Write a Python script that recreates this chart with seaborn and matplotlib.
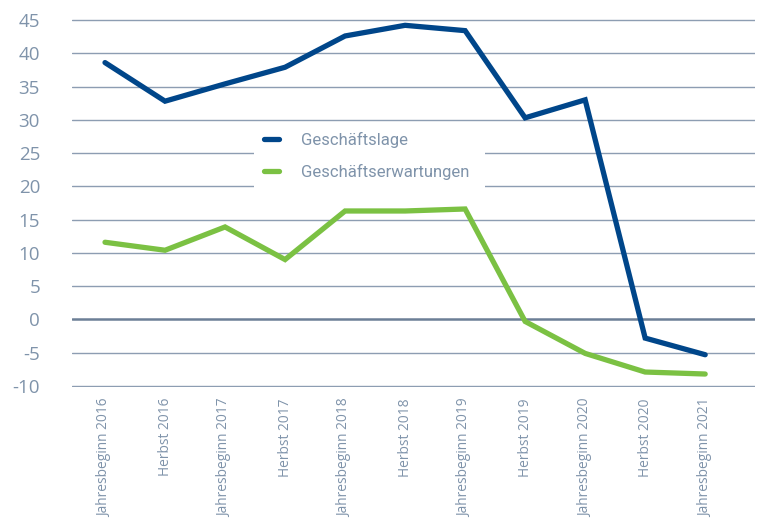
import matplotlib
matplotlib.use("Agg")
import matplotlib.pyplot as plt
import seaborn as sns
import pandas as pd

categories = ["Jahresbeginn 2016", "Herbst 2016", "Jahresbeginn 2017", "Herbst 2017",
              "Jahresbeginn 2018", "Herbst 2018", "Jahresbeginn 2019", "Herbst 2019",
              "Jahresbeginn 2020", "Herbst 2020", "Jahresbeginn 2021"]
geschaeftslage = [38.6, 32.8, 35.4, 37.9, 42.6, 44.2, 43.4, 30.3, 33.0, -2.8, -5.3]
erwartungen = [11.6, 10.4, 13.9, 9.0, 16.3, 16.3, 16.6, -0.3, -5.1, -7.9, -8.2]
series_names = ["Geschäftslage", "Geschäftserwartungen"]
yticks = list(range(-10, 50, 5))

df = pd.DataFrame({
    "idx": list(range(len(categories))) * 2,
    "value": geschaeftslage + erwartungen,
    "series": [series_names[0]] * len(categories) + [series_names[1]] * len(categories),
})

sns.set_theme(style="white")
plt.rcParams['font.family'] = ['Open Sans', 'DejaVu Sans']

text_color = "#7f93aa"
grid_color = "#8d9db2"
palette = {series_names[0]: "#00468a", series_names[1]: "#7bc143"}

fig = plt.figure(figsize=(7.63, 5.21), dpi=100)
ax = fig.add_axes([72 / 763, 1 - 387 / 521, 683 / 763, 368 / 521])

for y in yticks:
    if y == 0:
        ax.axhline(y, color="#6c7f96", lw=1.8, zorder=1)
    else:
        ax.axhline(y, color=grid_color, lw=1.0, zorder=1)

sns.lineplot(data=df, x="idx", y="value", hue="series", palette=palette,
             linewidth=3.8, ax=ax, legend=True, zorder=3)
for ln in ax.lines:
    ln.set_solid_capstyle("round")
    ln.set_solid_joinstyle("miter")

ax.set_xlim(-0.55, 10.83)
ax.set_ylim(-10.15, 45.15)
ax.set_yticks(yticks)
ax.set_yticklabels([str(v) for v in yticks], color=text_color, fontsize=13.5)
ax.set_xticks(range(len(categories)))
ax.set_xticklabels(categories, rotation=90, color=text_color, fontsize=9.9, va="top")
ax.tick_params(axis="both", length=0)
ax.tick_params(axis="y", pad=23)
ax.tick_params(axis="x", pad=8)
for s in ax.spines.values():
    s.set_visible(False)
ax.set_xlabel("")
ax.set_ylabel("")

x0 = (254 - 72) / 683
w = (485 - 254) / 683
ytop = (387 - 122) / 368
h = (183 - 122) / 368
leg = ax.legend(loc="upper left", bbox_to_anchor=(x0, ytop - h, w, h), mode="expand",
                frameon=True, fancybox=False, framealpha=1, edgecolor="white",
                handlelength=0.95, handletextpad=1.3, borderpad=0.57, labelspacing=0.97,
                borderaxespad=0,
                prop={"family": ["Roboto", "DejaVu Sans"], "size": 12})
leg.set_zorder(5)
for t in leg.get_texts():
    t.set_color(text_color)
for hl in leg.get_lines():
    hl.set_linewidth(3.8)
    hl.set_solid_capstyle("round")
leg.get_frame().set_linewidth(0)

fig.savefig("out.png", dpi=100, facecolor="white")
